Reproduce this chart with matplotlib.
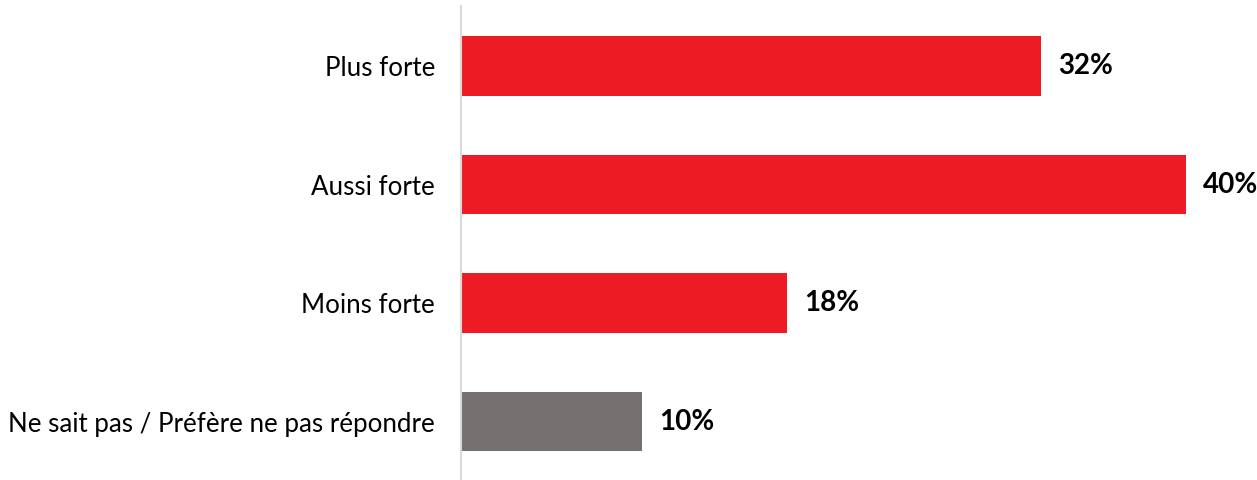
import matplotlib
matplotlib.use("Agg")
import matplotlib.pyplot as plt

categories = ["Plus forte", "Aussi forte", "Moins forte", "Ne sait pas / Préfère ne pas répondre"]
values = [32, 40, 18, 10]
colors = ["#ED1C24", "#ED1C24", "#ED1C24", "#767171"]
value_labels = ["32%", "40%", "18%", "10%"]

plt.rcParams['font.family'] = ['Lato', 'DejaVu Sans']

W, H = 1257, 480
fig = plt.figure(figsize=(W / 100, H / 100), dpi=100)
ax = fig.add_axes([461 / W, 0, (W - 461) / W, 474 / H])

ypos = list(range(len(categories)))
ax.barh(ypos, values, height=0.5, color=colors)
ax.set_xlim(0, (W - 461) / 18.125)
ax.set_ylim(3.493, -0.507)

for y, v, lab in zip(ypos, values, value_labels):
    ax.text(v + 17 / 18.125, y, lab, va='center', ha='left', fontsize=20,
            fontweight='bold', color='black')

ax.set_yticks(ypos)
ax.set_yticklabels(categories, fontsize=18.6)
ax.tick_params(axis='y', length=0, pad=18.7)
ax.set_xticks([])
for s in ['top', 'right', 'bottom']:
    ax.spines[s].set_visible(False)
ax.spines['left'].set_color('#d9d9d9')
ax.spines['left'].set_linewidth(1.5)

fig.savefig("out.png", dpi=100)
